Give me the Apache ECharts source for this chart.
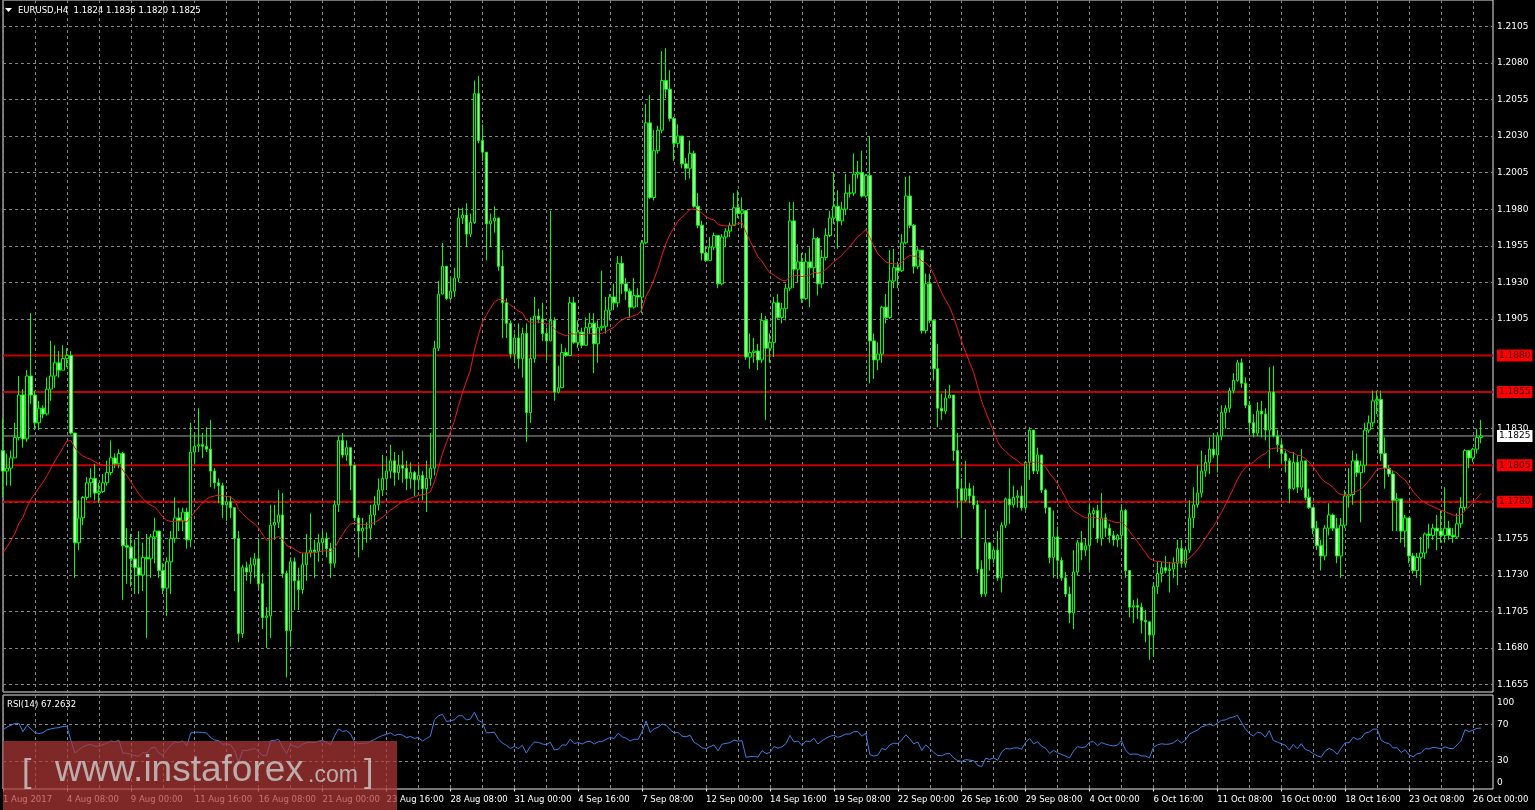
<!DOCTYPE html>
<html><head><meta charset="utf-8">
<script src="https://cdn.jsdelivr.net/npm/echarts@6/dist/echarts.min.js"></script>
<style>html,body{margin:0;padding:0;background:#000;}#c{width:1535px;height:810px;}</style>
</head><body><div id="c"></div>
<script>
const symbolTitle = 'EURUSD,H4  1.1824 1.1836 1.1820 1.1825';
const rsiTitle = 'RSI(14) 67.2632';
const timeLabels = ['1 Aug 2017','4 Aug 08:00','9 Aug 00:00','11 Aug 16:00','16 Aug 08:00','21 Aug 00:00','23 Aug 16:00','28 Aug 08:00','31 Aug 00:00','4 Sep 16:00','7 Sep 08:00','12 Sep 00:00','14 Sep 16:00','19 Sep 08:00','22 Sep 00:00','26 Sep 16:00','29 Sep 08:00','4 Oct 00:00','6 Oct 16:00','11 Oct 08:00','16 Oct 00:00','18 Oct 16:00','23 Oct 08:00','26 Oct 00:00'];
const priceTicks = [1.1655,1.1680,1.1705,1.1730,1.1755,1.1780,1.1805,1.1830,1.1855,1.1880,1.1905,1.1930,1.1955,1.1980,1.2005,1.2030,1.2055,1.2080,1.2105];
const levels = [1.1880, 1.1855, 1.1805, 1.1780];
const lastPrice = 1.1825;
const rsiTicks = [0, 30, 70, 100];
const rsiLevels = [70, 30];
const firstOpen = 1.1815;
const closes = [
1.1801,1.1803,1.1810,1.1824,1.1853,1.1823,1.1866,1.1853,1.1834,1.1844,1.1840,1.1857,1.1866,1.1875,1.1870,1.1878,1.1880,1.1827,1.1752,1.1769,
1.1783,1.1793,1.1796,1.1786,1.1787,1.1793,1.1800,1.1810,1.1806,1.1813,1.1750,1.1749,1.1741,1.1735,1.1730,1.1742,1.1741,1.1756,1.1760,1.1733,
1.1721,1.1739,1.1755,1.1769,1.1767,1.1773,1.1754,1.1814,1.1818,1.1819,1.1818,1.1816,1.1801,1.1793,1.1791,1.1778,1.1780,1.1776,1.1755,1.1690,
1.1735,1.1732,1.1737,1.1741,1.1724,1.1701,1.1702,1.1764,1.1766,1.1771,1.1731,1.1692,1.1739,1.1726,1.1720,1.1737,1.1745,1.1747,1.1746,1.1752,
1.1755,1.1748,1.1738,1.1778,1.1822,1.1812,1.1817,1.1805,1.1769,1.1760,1.1762,1.1762,1.1771,1.1778,1.1788,1.1796,1.1801,1.1808,1.1800,1.1805,
1.1803,1.1796,1.1800,1.1795,1.1798,1.1789,1.1796,1.1803,1.1885,1.1922,1.1941,1.1919,1.1924,1.1933,1.1974,1.1976,1.1963,1.1971,1.2059,1.2027,
1.2019,1.1970,1.1972,1.1974,1.1941,1.1916,1.1902,1.1881,1.1892,1.1878,1.1895,1.1841,1.1878,1.1907,1.1905,1.1895,1.1890,1.1904,1.1855,1.1858,
1.1882,1.1880,1.1916,1.1889,1.1896,1.1887,1.1899,1.1902,1.1888,1.1899,1.1900,1.1911,1.1920,1.1916,1.1943,1.1929,1.1924,1.1913,1.1921,1.1920,
1.1957,1.2039,1.1988,1.2020,1.2034,1.2068,1.2062,1.2042,1.2025,1.2030,1.2011,1.2008,1.2018,1.1982,1.1969,1.1950,1.1945,1.1954,1.1962,1.1929,
1.1961,1.1965,1.1969,1.1981,1.1977,1.1979,1.1879,1.1882,1.1883,1.1877,1.1904,1.1885,1.1889,1.1916,1.1906,1.1912,1.1926,1.1972,1.1939,1.1944,
1.1919,1.1944,1.1940,1.1960,1.1929,1.1947,1.1962,1.1974,1.1982,1.1972,1.1980,1.1991,1.1991,1.2004,1.2005,1.1989,1.2003,1.1890,1.1877,1.1881,
1.1913,1.1906,1.1931,1.1940,1.1938,1.1957,1.1989,1.1969,1.1941,1.1952,1.1897,1.1929,1.1904,1.1871,1.1844,1.1842,1.1851,1.1853,1.1815,1.1789,
1.1781,1.1789,1.1784,1.1778,1.1734,1.1717,1.1752,1.1741,1.1747,1.1728,1.1764,1.1782,1.1778,1.1783,1.1784,1.1776,1.1807,1.1829,1.1801,1.1812,
1.1788,1.1776,1.1742,1.1756,1.1740,1.1728,1.1717,1.1704,1.1732,1.1752,1.1747,1.1750,1.1772,1.1774,1.1755,1.1769,1.1762,1.1757,1.1754,1.1757,
1.1774,1.1733,1.1708,1.1709,1.1708,1.1699,1.1698,1.1689,1.1722,1.1731,1.1735,1.1733,1.1734,1.1738,1.1748,1.1738,1.1747,1.1769,1.1778,1.1786,
1.1801,1.1807,1.1816,1.1812,1.1825,1.1841,1.1844,1.1856,1.1863,1.1875,1.1861,1.1846,1.1834,1.1827,1.1842,1.1840,1.1829,1.1855,1.1825,1.1819,
1.1813,1.1808,1.1789,1.1807,1.1790,1.1808,1.1783,1.1776,1.1762,1.1750,1.1743,1.1762,1.1771,1.1762,1.1743,1.1764,1.1784,1.1785,1.1808,1.1800,
1.1805,1.1829,1.1834,1.1849,1.1850,1.1813,1.1803,1.1799,1.1781,1.1782,1.1760,1.1769,1.1743,1.1733,1.1742,1.1745,1.1758,1.1757,1.1762,1.1760,
1.1757,1.1762,1.1757,1.1756,1.1765,1.1776,1.1815,1.1810,1.1816,1.1824,1.1825];
const highs = [
1.1837,1.1813,1.1815,1.1834,1.1866,1.1857,1.1870,1.1909,1.1856,1.1849,1.1846,1.1865,1.1890,1.1887,1.1883,1.1887,1.1885,1.1883,1.1827,1.1781,
1.1784,1.1797,1.1803,1.1806,1.1793,1.1799,1.1808,1.1822,1.1813,1.1816,1.1814,1.1762,1.1758,1.1754,1.1760,1.1752,1.1758,1.1758,1.1769,1.1758,
1.1738,1.1742,1.1760,1.1783,1.1776,1.1776,1.1776,1.1834,1.1827,1.1844,1.1827,1.1831,1.1836,1.1803,1.1796,1.1793,1.1784,1.1784,1.1773,1.1760,
1.1737,1.1739,1.1742,1.1745,1.1755,1.1731,1.1708,1.1778,1.1778,1.1788,1.1786,1.1733,1.1742,1.1742,1.1735,1.1745,1.1758,1.1772,1.1754,1.1758,
1.1760,1.1759,1.1752,1.1781,1.1825,1.1827,1.1822,1.1815,1.1805,1.1771,1.1769,1.1766,1.1778,1.1784,1.1796,1.1812,1.1810,1.1819,1.1814,1.1812,
1.1815,1.1808,1.1807,1.1801,1.1805,1.1801,1.1808,1.1827,1.1890,1.1931,1.1957,1.1936,1.1933,1.1940,1.1981,1.1981,1.1984,1.1977,1.2068,1.2071,
1.2038,1.2018,1.1977,1.1982,1.1974,1.1952,1.1919,1.1904,1.1895,1.1902,1.1899,1.1902,1.1906,1.1920,1.1912,1.1916,1.1899,1.1979,1.1906,1.1873,
1.1888,1.1885,1.1920,1.1920,1.1904,1.1899,1.1906,1.1909,1.1909,1.1904,1.1938,1.1920,1.1922,1.1929,1.1948,1.1948,1.1933,1.1926,1.1933,1.1926,
1.1959,1.2052,1.2058,1.2034,1.2037,1.2088,1.2090,1.2075,1.2043,1.2038,1.2023,1.2015,1.2027,1.2020,1.1991,1.1972,1.1955,1.1961,1.1964,1.1959,
1.1963,1.1967,1.1971,1.1991,1.1993,1.1988,1.1979,1.1895,1.1892,1.1888,1.1909,1.1907,1.1895,1.1920,1.1922,1.1916,1.1929,1.1985,1.1985,1.1956,
1.1950,1.1950,1.1954,1.1967,1.1961,1.1952,1.1967,1.1979,1.2005,1.1993,1.1985,1.2004,1.1997,1.2018,1.2013,1.2020,1.2004,1.2030,1.1895,1.1889,
1.1914,1.1922,1.1952,1.1953,1.1944,1.1963,1.2002,1.2003,1.1970,1.1954,1.1933,1.1936,1.1936,1.1904,1.1888,1.1854,1.1857,1.1860,1.1853,1.1827,
1.1796,1.1808,1.1793,1.1791,1.1781,1.1740,1.1775,1.1752,1.1749,1.1760,1.1766,1.1783,1.1803,1.1791,1.1788,1.1791,1.1808,1.1831,1.1829,1.1817,
1.1812,1.1789,1.1776,1.1774,1.1763,1.1742,1.1732,1.1722,1.1747,1.1754,1.1760,1.1755,1.1779,1.1776,1.1778,1.1786,1.1772,1.1765,1.1760,1.1758,
1.1778,1.1775,1.1733,1.1713,1.1714,1.1711,1.1706,1.1697,1.1725,1.1739,1.1739,1.1743,1.1739,1.1742,1.1754,1.1754,1.1748,1.1781,1.1790,1.1805,
1.1815,1.1812,1.1824,1.1827,1.1827,1.1846,1.1846,1.1858,1.1868,1.1877,1.1878,1.1865,1.1849,1.1840,1.1848,1.1849,1.1844,1.1872,1.1873,1.1829,
1.1822,1.1815,1.1810,1.1814,1.1812,1.1816,1.1799,1.1789,1.1776,1.1767,1.1754,1.1764,1.1779,1.1772,1.1769,1.1769,1.1788,1.1803,1.1815,1.1813,
1.1808,1.1834,1.1839,1.1856,1.1856,1.1856,1.1824,1.1805,1.1801,1.1786,1.1773,1.1771,1.1769,1.1745,1.1745,1.1756,1.1759,1.1765,1.1765,1.1771,
1.1774,1.1790,1.1767,1.1762,1.1772,1.1783,1.1816,1.1811,1.1817,1.1830,1.1836];
const lows = [
1.1783,1.1791,1.1791,1.1810,1.1822,1.1817,1.1821,1.1847,1.1829,1.1829,1.1837,1.1839,1.1849,1.1858,1.1865,1.1870,1.1872,1.1826,1.1728,1.1747,
1.1764,1.1781,1.1783,1.1781,1.1779,1.1786,1.1791,1.1798,1.1803,1.1803,1.1713,1.1724,1.1722,1.1717,1.1717,1.1719,1.1687,1.1728,1.1738,1.1728,
1.1717,1.1702,1.1717,1.1752,1.1760,1.1760,1.1748,1.1749,1.1806,1.1814,1.1810,1.1814,1.1790,1.1789,1.1779,1.1769,1.1767,1.1769,1.1719,1.1684,
1.1687,1.1726,1.1724,1.1728,1.1721,1.1693,1.1680,1.1687,1.1754,1.1762,1.1728,1.1660,1.1681,1.1706,1.1706,1.1717,1.1726,1.1742,1.1728,1.1739,
1.1745,1.1742,1.1728,1.1735,1.1773,1.1810,1.1808,1.1788,1.1767,1.1742,1.1747,1.1752,1.1754,1.1764,1.1774,1.1784,1.1788,1.1796,1.1791,1.1795,
1.1793,1.1788,1.1789,1.1784,1.1788,1.1781,1.1773,1.1791,1.1798,1.1883,1.1922,1.1918,1.1918,1.1920,1.1930,1.1970,1.1954,1.1961,1.1970,1.2025,
1.2013,1.1945,1.1954,1.1964,1.1938,1.1892,1.1892,1.1878,1.1875,1.1871,1.1865,1.1821,1.1834,1.1875,1.1902,1.1890,1.1877,1.1890,1.1849,1.1854,
1.1871,1.1879,1.1880,1.1888,1.1885,1.1885,1.1890,1.1895,1.1868,1.1875,1.1897,1.1895,1.1904,1.1911,1.1913,1.1922,1.1918,1.1906,1.1912,1.1913,
1.1909,1.1956,1.1987,1.1986,1.2018,1.2032,1.2056,1.2040,1.2013,1.2022,1.2008,1.2000,1.2001,1.1981,1.1967,1.1945,1.1944,1.1947,1.1952,1.1926,
1.1928,1.1954,1.1961,1.1969,1.1974,1.1967,1.1877,1.1871,1.1875,1.1870,1.1875,1.1836,1.1875,1.1879,1.1905,1.1902,1.1904,1.1924,1.1926,1.1930,
1.1916,1.1918,1.1913,1.1933,1.1921,1.1926,1.1945,1.1961,1.1970,1.1953,1.1969,1.1976,1.1988,1.1989,1.2001,1.1988,1.1988,1.1861,1.1864,1.1870,
1.1875,1.1902,1.1905,1.1926,1.1926,1.1937,1.1956,1.1967,1.1936,1.1939,1.1895,1.1895,1.1902,1.1863,1.1831,1.1836,1.1840,1.1851,1.1808,1.1776,
1.1755,1.1780,1.1779,1.1775,1.1731,1.1715,1.1715,1.1733,1.1738,1.1726,1.1718,1.1762,1.1765,1.1776,1.1776,1.1774,1.1774,1.1795,1.1799,1.1799,
1.1786,1.1772,1.1738,1.1728,1.1728,1.1726,1.1715,1.1697,1.1693,1.1730,1.1740,1.1743,1.1733,1.1762,1.1752,1.1750,1.1756,1.1752,1.1750,1.1749,
1.1748,1.1728,1.1701,1.1697,1.1700,1.1690,1.1684,1.1672,1.1674,1.1717,1.1725,1.1731,1.1718,1.1728,1.1723,1.1735,1.1735,1.1745,1.1762,1.1776,
1.1783,1.1797,1.1799,1.1810,1.1800,1.1822,1.1830,1.1841,1.1854,1.1862,1.1858,1.1844,1.1827,1.1824,1.1825,1.1824,1.1822,1.1803,1.1824,1.1814,
1.1806,1.1800,1.1779,1.1788,1.1786,1.1788,1.1781,1.1775,1.1758,1.1747,1.1733,1.1740,1.1757,1.1760,1.1738,1.1728,1.1762,1.1776,1.1778,1.1797,
1.1766,1.1800,1.1827,1.1831,1.1840,1.1808,1.1789,1.1797,1.1760,1.1760,1.1752,1.1749,1.1738,1.1731,1.1728,1.1723,1.1741,1.1748,1.1754,1.1747,
1.1752,1.1752,1.1754,1.1752,1.1755,1.1762,1.1774,1.1803,1.1807,1.1813,1.1820];
// moving average (smoothed, 14) seeded with the value read at the first bar
const maPeriod = 14;
const maStart = 1.1745;
// RSI(14): first 14 values, rest computed from closes
const rsiPeriod = 14;
const rsiHead = [64,67,69,71,71,62,69,65,61,60,61,64,65,66];

const N = closes.length;
const slots = 374;
const cats = Array.from({length: slots}, (_, i) => String(i));
const opens = closes.map((c, i) => i === 0 ? firstOpen : closes[i - 1]);
const candleData = closes.map((c, i) => {
  const o = opens[i];
  return [o, c, Math.min(lows[i], o, c), Math.max(highs[i], o, c)];
});
const ma = [];
closes.forEach((c, i) => { ma.push(i === 0 ? maStart : (ma[i - 1] * (maPeriod - 1) + c) / maPeriod); });
const rsi = rsiHead.slice();
let g = 0, l = 0;
for (let i = 1; i <= rsiPeriod; i++) { const d = closes[i] - closes[i - 1]; if (d > 0) g += d; else l -= d; }
g /= rsiPeriod; l /= rsiPeriod;
rsi[rsiPeriod] = l === 0 ? 100 : 100 - 100 / (1 + g / l);
for (let i = rsiPeriod + 1; i < N; i++) {
  const d = closes[i] - closes[i - 1];
  g = (g * (rsiPeriod - 1) + Math.max(d, 0)) / rsiPeriod;
  l = (l * (rsiPeriod - 1) + Math.max(-d, 0)) / rsiPeriod;
  rsi[i] = l === 0 ? 100 : 100 - 100 / (1 + g / l);
}

const FONT = 'DejaVu Sans';
const gridDash = {color: '#858585', type: [3, 3], width: 1};
const chart = echarts.init(document.getElementById('c'), null, {renderer: 'canvas', width: 1535, height: 810});

// horizontal level lines: one series per level, spanning every slot, with an end label on the price scale
function levelSeries(v, lineColor, width, bg, fg) {
  return {
    type: 'line', xAxisIndex: 0, yAxisIndex: 0, z: 3, silent: true, symbol: 'none',
    data: cats.map(() => v),
    lineStyle: {color: lineColor, width: width},
    emphasis: {disabled: true},
    endLabel: {show: true, formatter: v.toFixed(4), distance: 4, backgroundColor: bg, color: fg,
      fontFamily: FONT, fontSize: 9, padding: [2, 2, 1, 2]}
  };
}
const levelSeriesList = levels.map(v => levelSeries(v, '#c40000', 2, '#ff0000', '#3a0000'));
levelSeriesList.push(levelSeries(lastPrice, '#a8a8a8', 1, '#ffffff', '#000000'));

const option = {
  backgroundColor: '#000',
  animation: false,
  grid: [
    {left: 3, right: 42, top: -1, height: 693, show: true, borderColor: '#e8e8e8', borderWidth: 1, backgroundColor: '#000'},
    {left: 3, right: 42, top: 695, height: 94, show: true, borderColor: '#e8e8e8', borderWidth: 1, backgroundColor: '#000'}
  ],
  xAxis: [
    {type: 'category', gridIndex: 0, data: cats, boundaryGap: false,
      axisLine: {show: false}, axisTick: {show: false}, axisLabel: {show: false},
      splitLine: {show: true, interval: 7, lineStyle: gridDash}},
    {type: 'category', gridIndex: 1, data: cats, boundaryGap: false,
      axisLine: {show: false},
      axisTick: {show: true, interval: 15, length: 3, lineStyle: {color: '#e0e0e0'}},
      axisLabel: {interval: 15, formatter: (v, i) => timeLabels[i / 16] || '', align: 'left',
        color: '#ffffff', fontFamily: FONT, fontSize: 8.5, margin: 6},
      splitLine: {show: true, interval: 7, lineStyle: gridDash}}
  ],
  yAxis: [
    {type: 'value', gridIndex: 0, position: 'right', min: 1.1650, max: 1.2123,
      axisLine: {show: false},
      axisTick: {show: false, customValues: priceTicks},
      axisLabel: {customValues: priceTicks, formatter: v => v.toFixed(4), color: '#ffffff',
        fontFamily: FONT, fontSize: 9, margin: 4},
      splitLine: {show: true, lineStyle: gridDash}},
    {type: 'value', gridIndex: 1, position: 'right', min: -0.5, max: 102,
      axisLine: {show: false},
      axisTick: {show: false, customValues: rsiTicks},
      axisLabel: {customValues: rsiTicks, color: '#ffffff', fontFamily: FONT, fontSize: 9, margin: 4,
        formatter: v => v === 100 ? '{t|100}' : (v === 0 ? '{b|0}' : '{m|' + v + '}'),
        rich: {
          t: {padding: [12, 0, 0, 0], color: '#fff', fontFamily: FONT, fontSize: 9},
          b: {padding: [0, 0, 12, 0], color: '#fff', fontFamily: FONT, fontSize: 9},
          m: {color: '#fff', fontFamily: FONT, fontSize: 9}
        }},
      splitLine: {show: false}}
  ],
  series: [
    ...levelSeriesList,
    {type: 'candlestick', xAxisIndex: 0, yAxisIndex: 0, data: candleData, barWidth: 3, z: 4,
      itemStyle: {color: '#000000', color0: '#b8ffb8', borderColor: '#00ff00', borderColor0: '#00ff00', borderWidth: 1}},
    {type: 'line', xAxisIndex: 0, yAxisIndex: 0, data: ma, symbol: 'none', z: 5, silent: true,
      lineStyle: {color: '#f01818', width: 1}},
    {type: 'line', xAxisIndex: 1, yAxisIndex: 1, data: rsi, symbol: 'none', silent: true,
      lineStyle: {color: '#3a7fe6', width: 1},
      markLine: {silent: true, symbol: ['none', 'none'], precision: 2, label: {show: false},
        lineStyle: {color: '#858585', type: [3, 3], width: 1},
        data: rsiLevels.map(v => ({yAxis: v}))}}
  ],
  graphic: [
    {type: 'polygon', shape: {points: [[5, 8], [12, 8], [8.5, 12]]}, style: {fill: '#ffffff'}, z: 50},
    {type: 'text', x: 18, y: 11, style: {text: symbolTitle, fill: '#ffffff', font: '8.5px "DejaVu Sans"', verticalAlign: 'middle'}, z: 50},
    {type: 'text', x: 7, y: 705, style: {text: rsiTitle, fill: '#ffffff', font: '8.5px "DejaVu Sans"', verticalAlign: 'middle'}, z: 50},
    {type: 'rect', shape: {x: 3, y: 741, width: 394, height: 69}, style: {fill: 'rgba(175,55,55,0.72)'}, z: 100},
    {type: 'text', x: 22, y: 773, style: {text: '[', fill: 'rgba(205,205,205,0.8)', font: '34px "Liberation Sans"', verticalAlign: 'middle'}, z: 101},
    {type: 'text', x: 55, y: 771, style: {text: 'www.instaforex', fill: 'rgba(205,205,205,0.8)', font: '37px "Liberation Sans"', verticalAlign: 'middle'}, z: 101},
    {type: 'text', x: 308, y: 776, style: {text: '.com', fill: 'rgba(205,205,205,0.8)', font: '23px "Liberation Sans"', verticalAlign: 'middle'}, z: 101},
    {type: 'text', x: 364, y: 773, style: {text: ']', fill: 'rgba(205,205,205,0.8)', font: '34px "Liberation Sans"', verticalAlign: 'middle'}, z: 101}
  ]
};
chart.setOption(option);
</script>
</body></html>
